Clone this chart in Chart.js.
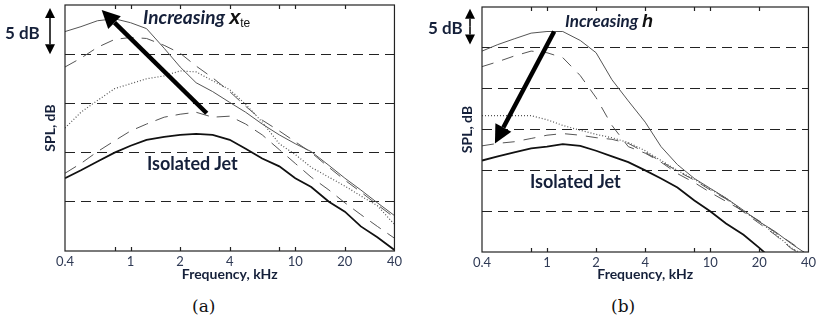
<!DOCTYPE html>
<html>
<head>
<meta charset="utf-8">
<script src="https://cdn.jsdelivr.net/npm/chart.js@4.4.0/dist/chart.umd.min.js"></script>
<style>
  body { margin: 0; background: #fff; width: 819px; height: 322px; position: relative; overflow: hidden; font-family: Lato, 'Open Sans', sans-serif; }
  .panel { position: absolute; top: 0; }
  .lbl { position: absolute; color: #15203a; font-weight: bold; white-space: nowrap; line-height: 1; }
  .it { font-style: italic; }
  .xv { font-family: 'Liberation Sans', Arial, sans-serif; font-style: italic; font-weight: bold; font-size: 20px; color: #111; }
  .sub { font-family: 'Liberation Sans', Arial, sans-serif; font-style: normal; font-weight: normal; font-size: 12px; color: #111; position: relative; top: 3px; }
  .cap { position: absolute; font-family: 'DejaVu Serif', 'Liberation Serif', serif; font-size: 17px; color: #111; line-height: 1; }
</style>
</head>
<body>

<div class="panel" style="left:0"><canvas id="chartA" width="405" height="290"></canvas></div>
<div class="panel" style="left:410px"><canvas id="chartB" width="409" height="290"></canvas></div>

<div class="lbl" style="left:5px;top:24px;font-size:17px">5 dB</div>
<div class="lbl it" style="left:143px;top:7px;font-size:19px">Increasing <span class="xv">x</span><span class="sub">te</span></div>
<div class="lbl" style="left:147px;top:154px;font-size:18px">Isolated Jet</div>

<div class="lbl" style="left:428px;top:19px;font-size:17px">5 dB</div>
<div class="lbl it" style="left:565px;top:12px;font-size:17px">Increasing <span class="xv" style="font-size:18px">h</span></div>
<div class="lbl" style="left:530px;top:172px;font-size:18px">Isolated Jet</div>

<div class="cap" style="left:192px;top:298px">(a)</div>
<div class="cap" style="left:611px;top:298px">(b)</div>

<script>
// Données (SPL relatif, dB)
const freqs = [0.4, 0.5, 0.63, 0.8, 1, 1.25, 1.6, 2, 2.5, 3.15, 4, 5, 6.3, 8, 10, 12.5, 16, 20, 25, 31.5, 40];
const freqTicks = [0.4, 1, 2, 4, 10, 20, 40];
const minorTicks = [0.8, 1, 2, 4, 8, 10, 20];

// (a) increasing x_te
const isoA   = [7.4, 8.2, 9.1, 10.0, 10.7, 11.3, 11.6, 11.8, 11.9, 11.8, 11.3, 10.4, 9.4, 8.6, 7.4, 6.5, 5.0, 4.0, 2.5, 1.4, 0.1];
const dash1A = [7.9, 8.9, 10.1, 11.2, 12.2, 12.9, 13.6, 13.9, 14.1, 13.6, 13.7, 12.9, 11.8, 10.3, 8.9, 7.5, 6.2, 4.9, 3.7, 2.5, 1.3];
const dotA   = [12.5, 14.1, 15.3, 16.5, 17.0, 17.5, 17.8, 18.3, 18.2, 17.3, 16.4, 14.9, 13.1, 10.9, 9.8, 8.5, 7.5, 6.6, 5.6, 4.6, 2.7];
const dash2A = [18.7, 19.6, 20.7, 21.5, 21.7, 21.6, 20.9, 20.1, 18.8, 17.6, 16.2, 14.7, 13.3, 12.2, 11.1, 10.0, 8.5, 7.2, 6.0, 4.7, 3.4];
const topA   = [22.3, 22.8, 23.4, 23.6, 23.2, 22.6, 20.6, 18.7, 17.1, 16.2, 15.1, 14.1, 12.9, 11.8, 10.9, 10.1, 8.7, 7.4, 6.2, 4.9, 3.6];
const gridA  = [5, 10, 15, 20];

// (b) increasing h
const isoB   = [11.2, 11.7, 12.2, 12.7, 12.9, 13.2, 13.0, 12.4, 11.7, 11.0, 10.0, 9.0, 7.9, 6.3, 5.0, 3.5, 2.1, 0.5, -1.2, -2.8, -4.4];
const dash1B = [13.0, 13.3, 13.5, 13.9, 14.3, 14.5, 14.3, 14.0, 13.8, 13.3, 12.2, 11.1, 9.9, 8.8, 7.6, 6.5, 4.9, 3.5, 2.1, 0.4, -0.7];
const dotB   = [16.7, 16.7, 16.7, 16.7, 16.2, 15.5, 14.9, 14.4, 14.0, 13.4, 12.4, 11.2, 10.0, 8.9, 7.7, 6.6, 5.0, 3.7, 2.2, 0.5, -0.7];
const dashB  = [22.7, 23.3, 24.0, 24.6, 24.4, 23.8, 21.6, 18.9, 15.5, 12.9, 12.1, 11.0, 9.6, 8.5, 7.3, 6.2, 5.0, 3.8, 2.4, 1.1, -0.4];
const topB   = [24.6, 25.4, 26.1, 26.8, 27.0, 27.0, 25.9, 24.4, 21.1, 18.5, 15.9, 12.9, 10.7, 9.0, 7.8, 6.6, 5.1, 3.7, 2.5, 1.0, -0.4];
const gridB  = [5, 10, 15, 20, 25];

const FONT = "Lato, 'Open Sans', sans-serif";

// Flèche pleine
function drawArrow(ctx, x1, y1, x2, y2, width, headLen, headHalf) {
    const ang = Math.atan2(y2 - y1, x2 - x1);
    const bx = x2 - Math.cos(ang) * headLen;
    const by = y2 - Math.sin(ang) * headLen;
    ctx.lineWidth = width;
    ctx.beginPath();
    ctx.moveTo(x1, y1);
    ctx.lineTo(bx, by);
    ctx.stroke();
    ctx.beginPath();
    ctx.moveTo(x2, y2);
    ctx.lineTo(bx + Math.sin(ang) * headHalf, by - Math.cos(ang) * headHalf);
    ctx.lineTo(bx - Math.sin(ang) * headHalf, by + Math.cos(ang) * headHalf);
    ctx.closePath();
    ctx.fill();
}

// Cadre, graduations, flèches
const deco = {
    id: 'deco',
    afterDatasetsDraw(chart, args, o) {
        const { ctx, chartArea: a, scales: { x, y } } = chart;
        ctx.save();
        ctx.strokeStyle = '#222';
        ctx.fillStyle = '#000';
        ctx.lineWidth = 1.2;
        ctx.strokeRect(a.left, a.top, a.right - a.left, a.bottom - a.top);
        minorTicks.forEach(v => {
            const px = Math.round(x.getPixelForValue(v)) + 0.5;
            ctx.beginPath();
            ctx.moveTo(px, a.bottom); ctx.lineTo(px, a.bottom - 4);
            ctx.moveTo(px, a.top); ctx.lineTo(px, a.top + 4);
            ctx.stroke();
        });
        ctx.strokeStyle = '#000';
        const [t, h] = o.arrow;
        drawArrow(ctx, x.getPixelForValue(t[0]), y.getPixelForValue(t[1]),
            x.getPixelForValue(h[0]), y.getPixelForValue(h[1]), 4.5, 18, 9);
        const sx = a.left + o.scaleDx;
        const ya = y.getPixelForValue(o.scaleFrom), yb = y.getPixelForValue(o.scaleTo);
        drawArrow(ctx, sx, (ya + yb) / 2, sx, ya, 1.5, 10, 5);
        drawArrow(ctx, sx, (ya + yb) / 2, sx, yb, 1.5, 10, 5);
        ctx.restore();
    }
};

function series(values, color, width, dash) {
    return {
        data: freqs.map((f, i) => ({ x: f, y: values[i] })),
        borderColor: color,
        borderWidth: width,
        borderDash: dash,
        pointRadius: 0,
        tension: 0,
        fill: false
    };
}

function makeChart(id, cfg) {
    return new Chart(document.getElementById(id), {
        type: 'line',
        data: { datasets: cfg.datasets },
        options: {
            responsive: false,
            animation: false,
            layout: { padding: { left: cfg.padLeft, right: cfg.padRight, top: cfg.padTop, bottom: 0 } },
            plugins: { legend: { display: false }, tooltip: { enabled: false }, deco: cfg.deco },
            scales: {
                x: {
                    type: 'logarithmic', min: 0.4, max: 40,
                    afterBuildTicks: s => { s.ticks = freqTicks.map(v => ({ value: v })); },
                    afterFit: s => { s.height = cfg.xHeight; },
                    grid: { display: false, drawTicks: false },
                    border: { display: false },
                    ticks: { autoSkip: false, maxRotation: 0, padding: 3, color: '#2f3a55',
                        font: { family: FONT, size: 13 }, callback: v => String(v) },
                    title: { display: true, text: 'Frequency, kHz', color: '#15203a',
                        font: { family: FONT, size: 14, weight: 'bold' }, padding: { top: 0, bottom: 7 } }
                },
                y: {
                    min: 0, max: cfg.yMax,
                    afterBuildTicks: s => { s.ticks = cfg.grid.map(v => ({ value: v })); },
                    afterFit: s => { s.width = 25; },
                    ticks: { display: false },
                    grid: { color: '#222', lineWidth: 1, drawTicks: false },
                    border: { display: false, dash: [10, 6] },
                    title: { display: true, text: 'SPL, dB', color: '#15203a',
                        font: { family: FONT, size: 14, weight: 'bold' }, padding: { top: 2, bottom: 0 } }
                }
            }
        },
        plugins: [deco]
    });
}

makeChart('chartA', {
    padLeft: 40, padRight: 8, padTop: 5, xHeight: 39, yMax: 25, grid: gridA,
    datasets: [
        series(topA, '#555', 1, []),
        series(dash2A, '#555', 1, [13, 8]),
        series(dotA, '#555', 1.2, [1, 2]),
        series(dash1A, '#555', 1, [13, 8]),
        series(isoA, '#111', 1.8, [])
    ],
    deco: { arrow: [[2.9, 14.0], [0.668, 24.5]], scaleDx: -15, scaleFrom: 20, scaleTo: 24.7 }
});

makeChart('chartB', {
    padLeft: 47, padRight: 9, padTop: 7, xHeight: 38, yMax: 30, grid: gridB,
    datasets: [
        series(topB, '#555', 1, []),
        series(dashB, '#555', 1, [12, 9]),
        series(dotB, '#555', 1.2, [1, 2]),
        series(dash1B, '#555', 1, [12, 9]),
        series(isoB, '#111', 1.8, [])
    ],
    deco: { arrow: [[1.107, 27.0], [0.48, 13.3]], scaleDx: -12, scaleFrom: 25.4, scaleTo: 29.8 }
});
</script>
</body>
</html>
